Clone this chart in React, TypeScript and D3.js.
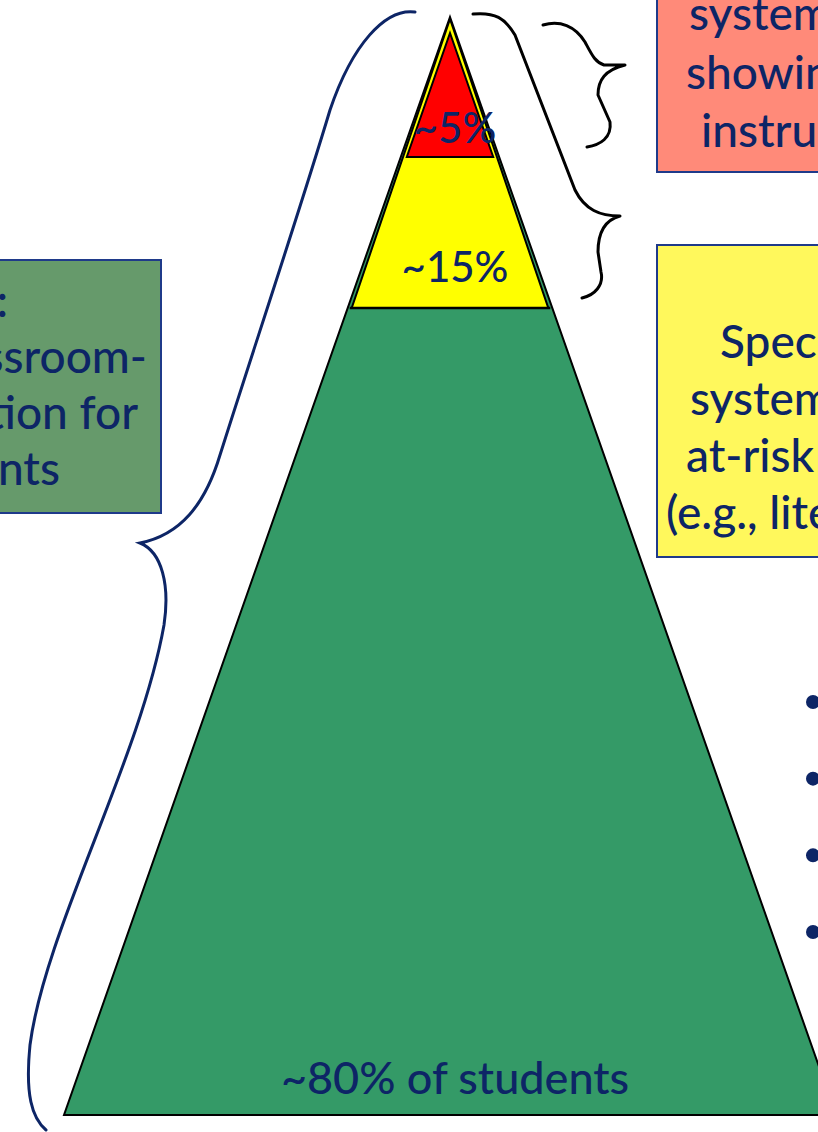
import React from "react";
import * as d3 from "d3";

// ---- data ----
const tierLabels = ["~5%", "~15%", "~80% of students"];
const tierColors = ["#ff0000", "#ffff00", "#349a67"];
const redBoxLines = ["systems for students", "showing minimal", "instructional response"];
const yellowBoxLines = ["", "Specialized group", "systems for students", "at-risk in reading", "(e.g., literacy groups)"];
const greenBoxLines = ["Primary Prevention:", "School-/Classroom-", "Wide instruction for", "All Students"];
const bulletItems = ["a", "b", "c", "d"];

// ---- layout ----
const W = 818;
const H = 1132;
const NAVY = "#0d2566";
const FONT = "Lato, 'Open Sans', sans-serif";

const apexX = 450;
const apexY = 17;
const baseY = 1115;
const baseHalf = 386;
const levels = [apexY, 157, 308, baseY];

export default function App() {
  const half = d3.scaleLinear().domain([apexY, baseY]).range([0, baseHalf]);
  const tri = (yTop: number, yBot: number, inset: number) => {
    const p = d3.path();
    const ht = Math.max(0, half(yTop) - inset);
    const hb = half(yBot) - inset;
    p.moveTo(apexX - ht, yTop);
    p.lineTo(apexX + ht, yTop);
    p.lineTo(apexX + hb, yBot);
    p.lineTo(apexX - hb, yBot);
    p.closePath();
    return p.toString();
  };

  const greenPath = tri(apexY, baseY, 0);
  const yellowPath = tri(apexY + 2, levels[2], 4);
  const redPath = tri(apexY + 16, levels[1], 6);

  const tierLabelY = [143, 282, 1094];
  const tierLabelSize = [42, 42, 45];

  const leftBrace =
    "M415,12 C385,8 352,45 330,110 C300,210 250,360 220,455 C205,505 180,535 140,543 " +
    "C162,552 170,585 164,625 C140,760 45,930 30,1045 C25,1095 32,1118 46,1130";
  const bigBrace =
    "M473,14 C495,12 505,18 515,35 L575,190 C585,210 600,216 620,216 " +
    "C605,220 598,232 598,252 L601,272 C604,285 595,295 582,298";
  const smallBrace =
    "M543,25 C560,20 575,26 585,42 C592,55 595,62 604,65 L625,65 " +
    "C605,70 598,80 598,95 L610,122 C612,138 600,145 587,147";

  const lh = 57;
  const bullets = d3.scaleLinear().domain([0, bulletItems.length - 1]).range([702, 932]);

  return (
    <svg
      width={W}
      height={H}
      viewBox={`0 0 ${W} ${H}`}
      style={{ position: "absolute", left: 0, top: 0, background: "#ffffff" }}
    >
      <rect x={0} y={0} width={W} height={H} fill="#ffffff" />
      {/* boxes */}
      <rect x={657} y={-10} width={200} height={182} fill="#ff8a79" stroke="#1f3a8a" strokeWidth={2} />
      <rect x={657} y={245} width={200} height={312} fill="#fff85c" stroke="#1f3a8a" strokeWidth={2} />
      <rect x={-20} y={260} width={181} height={253} fill="#669a6b" stroke="#1f3a8a" strokeWidth={2} />

      <g fill={NAVY} fontFamily={FONT} style={{ fontSize: "46px", fontWeight: 500 }}>
        {redBoxLines.map((t, i) => (
          <text key={"r" + i} x={[689, 686, 701][i]} y={30 + i * 58.5}>{t}</text>
        ))}
        {yellowBoxLines.map((t, i) => (
          <text key={"y" + i} x={[700, 720, 690, 686, 666][i]} y={301 + i * lh}>{t}</text>
        ))}
        {greenBoxLines.map((t, i) => (
          <text key={"g" + i} x={[8, 147, 138, 60][i]} y={317 + i * 56} textAnchor="end">{t}</text>
        ))}
      </g>

      {/* pyramid */}
      <path d={greenPath} fill={tierColors[2]} stroke="#000" strokeWidth={2} />
      <path d={yellowPath} fill={tierColors[1]} stroke="#000" strokeWidth={2} />
      <path d={redPath} fill={tierColors[0]} stroke="#000" strokeWidth={2} />
      <line x1={apexX - half(levels[1]) + 6} x2={apexX + half(levels[1]) - 6} y1={levels[1]} y2={levels[1]} stroke="#000" strokeWidth={2} />
      <line x1={apexX - half(levels[2]) + 2} x2={apexX + half(levels[2]) - 2} y1={levels[2]} y2={levels[2]} stroke="#000" strokeWidth={2.5} />

      {tierLabels.map((t, i) => (
        <text
          key={t}
          x={455}
          y={tierLabelY[i]}
          textAnchor="middle"
          fill={NAVY}
          fontFamily={FONT}
          fontSize={tierLabelSize[i]}
          fontWeight={500}
        >
          {t}
        </text>
      ))}

      {/* braces */}
      <path d={leftBrace} fill="none" stroke="#0d2566" strokeWidth={3} strokeLinecap="round" />
      <path d={bigBrace} fill="none" stroke="#000" strokeWidth={3} strokeLinecap="round" strokeLinejoin="round" />
      <path d={smallBrace} fill="none" stroke="#000" strokeWidth={3} strokeLinecap="round" strokeLinejoin="round" />

      {/* bullets */}
      {bulletItems.map((b, i) => (
        <circle key={b} cx={813} cy={bullets(i)} r={7} fill={NAVY} />
      ))}
    </svg>
  );
}
